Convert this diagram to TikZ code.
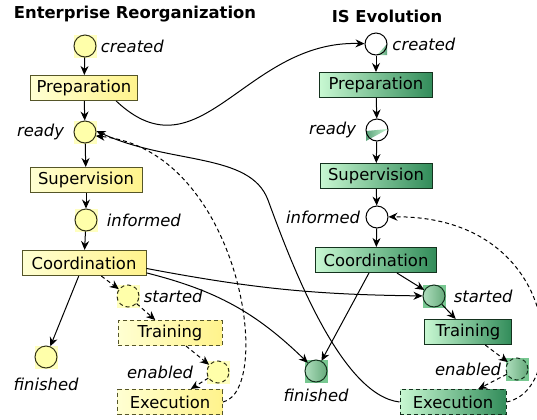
\documentclass[tikz,border=0pt]{standalone}
\usepackage{fontspec}
\setmainfont{DejaVu Sans}[ItalicFont={DejaVu Sans Oblique},BoldFont={DejaVu Sans Bold}]
\usetikzlibrary{arrows.meta,backgrounds}
\definecolor{ylwL}{RGB}{255,255,210}
\definecolor{ylwR}{RGB}{255,243,140}
\definecolor{ylwC}{RGB}{255,255,170}
\definecolor{ylwB}{RGB}{85,85,40}
\definecolor{grnL}{RGB}{200,248,210}
\definecolor{grnR}{RGB}{50,140,90}
\definecolor{grnC}{RGB}{120,200,145}
\definecolor{grnB}{RGB}{20,50,30}

\begin{document}
\begin{tikzpicture}[x=0.5pt,y=-0.5pt,
    every node/.style={font=\fontsize{8.2}{10}\selectfont},
    task/.style={draw,line width=0.5pt,minimum height=12.5pt,inner xsep=3pt,inner ysep=0pt},
    ytask/.style={task,draw=ylwB,left color=ylwL,right color=ylwR},
    gtask/.style={task,draw=grnB,left color=grnL,right color=grnR},
    state/.style={circle,draw,line width=0.5pt,minimum size=11pt,inner sep=0pt},
    ystate/.style={state,draw=ylwB!60!black,fill=ylwC},
    gstate/.style={state,draw=grnB,left color=grnC!60!white,right color=grnC!85!black},
    istate/.style={state,draw=black},
    lbl/.style={font=\fontsize{8.2}{10}\selectfont\itshape,inner sep=0pt},
    opt/.style={dash pattern=on 2pt off 1.5pt},
    link/.style={-{Stealth[length=4.5pt,width=4pt]},line width=0.5pt},
    title/.style={font=\fontsize{8.2}{10}\selectfont\bfseries}]
  \useasboundingbox (0,0) rectangle (537,419);

  \node[title] (ttlE) at (135,14) {Enterprise Reorganization};
  \node[title] (ttlI) at (387,16) {IS Evolution};

  % enterprise reorganization
  \node[ystate,label={[lbl,label distance=2pt]right:created}] (ecre) at (85,46) {};
  \node[ytask,minimum width=53.5pt] (eprep) at (84,88) {Preparation};
  \node[ystate,label={[lbl,label distance=4.5pt]left:ready}] (erdy) at (85,132) {};
  \node[ytask,minimum width=56pt] (esup) at (86,180) {Supervision};
  \node[ystate,label={[lbl,label distance=4.5pt]right:informed}] (einf) at (86,220) {};
  \node[ytask,minimum width=62pt] (ecoord) at (84,263) {Coordination};
  \node[ystate,opt,label={[lbl,label distance=2pt]right:started}] (esta) at (128,296) {};
  \node[ytask,opt,minimum width=52pt] (etrain) at (170,333) {Training};
  \node[ystate,label={[lbl,label distance=4.5pt]below:finished}] (efin) at (46,357) {};
  \node[ystate,opt,label={[lbl,label distance=6.5pt]left:enabled}] (eena) at (218,372) {};
  \node[ytask,opt,minimum width=52.5pt] (eexec) at (170,402) {Execution};

  % IS evolution
  \node[istate,label={[lbl,label distance=2.3pt]right:created}] (icre) at (376,44) {};
  \node[gtask,minimum width=56.5pt] (iprep) at (376,85) {Preparation};
  \node[istate,label={[lbl,label distance=4.5pt]left:ready}] (irdy) at (377,130) {};
  \node[gtask,minimum width=56pt] (isup) at (376,176) {Supervision};
  \node[istate,label={[lbl,label distance=2.5pt]left:informed}] (iinf) at (377,217) {};
  \node[gtask,minimum width=60.5pt] (icoord) at (376,260) {Coordination};
  \node[gstate,label={[lbl,label distance=4pt]right:started}] (ista) at (434,296) {};
  \node[gtask,minimum width=43.5pt] (itrain) at (468,332) {Training};
  \node[gstate,label={[lbl,label distance=3pt]below:finished}] (ifin) at (316,371) {};
  \node[gstate,opt,label={[lbl,label distance=2pt]left:enabled}] (iena) at (517,369) {};
  \node[gtask,opt,minimum width=53pt] (iexec) at (453,402) {Execution};

  \begin{scope}[on background layer]
    \fill[white] (0,0) rectangle (537,419);
    \foreach \s in {ecre,erdy,einf,esta,efin,eena}
      \fill[ylwC!75!white] (\s.west |- \s.north) rectangle (\s.east |- \s.south);
    \foreach \s in {ista,ifin,iena}
      \fill[grnC] (\s.west |- \s.north) rectangle (\s.east |- \s.south);
    \shade[left color=grnL,right color=grnR!80!white] ([shift={(1,11)}]icre.center) -- ([shift={(11,11)}]icre.center) -- ([shift={(11,0)}]icre.center) -- cycle;
    \shade[left color=grnR!80!white,right color=grnL] ([shift={(-11,1)}]irdy.center) -- ([shift={(11,-1)}]irdy.center) -- ([shift={(-11,11)}]irdy.center) -- cycle;
  \end{scope}

  \foreach \a/\b in {ecre/eprep,eprep/erdy,erdy/esup,esup/einf,einf/ecoord,ecoord/efin,
      icre/iprep,iprep/irdy,irdy/isup,isup/iinf,iinf/icoord,icoord/ista,icoord/ifin,ista/itrain}
    \draw[link] (\a) -- (\b);
  \foreach \a/\b in {ecoord/esta,esta/etrain,etrain/eena,eena/eexec,itrain/iena,iena/iexec}
    \draw[link,opt] (\a) -- (\b);

  \draw[link] (eprep.-22) .. controls (200,180) and (245,40) .. (icre);
  \draw[link] (iexec.west) .. controls (340,395) and (290,260) .. (268,200)
    .. controls (250,152) and (170,165) .. (erdy.5);
  \draw[link,opt] (eexec.east) .. controls (275,390) and (240,150) .. (erdy.-20);
  \draw[link,opt] (iexec.east) .. controls (570,390) and (560,215) .. (iinf);
  \draw[link] (ecoord.-5) to[bend right=5] (ista);
  \draw[link] (ecoord.-9) to[bend left=15] (ifin);
\end{tikzpicture}
\end{document}
